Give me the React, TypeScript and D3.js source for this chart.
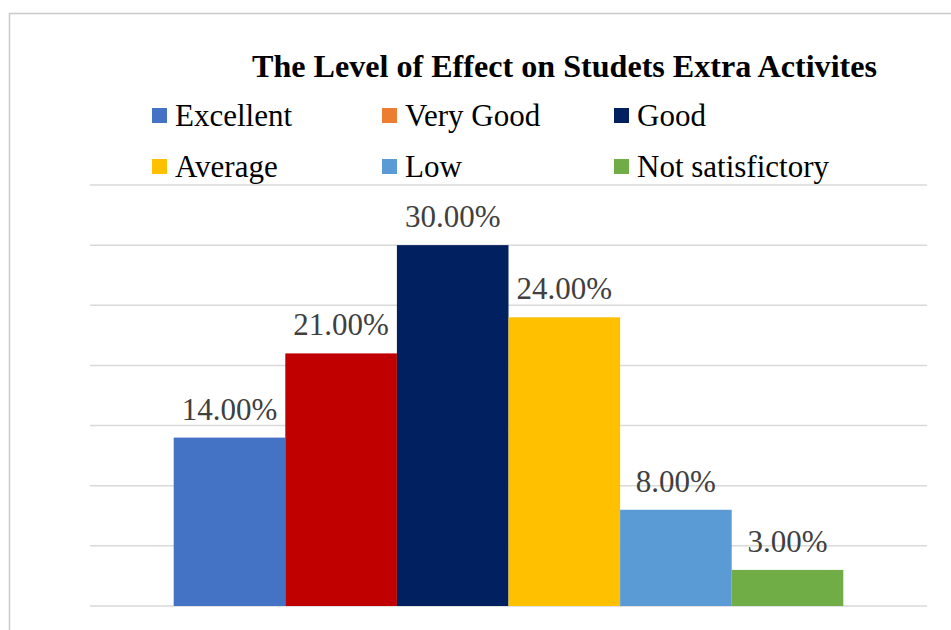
import React from "react";
import * as d3 from "d3";

const title = "The Level of Effect on Studets Extra Activites";
const categories = ["Excellent", "Very Good", "Good", "Average", "Low", "Not satisfictory"];
const values = [0.14, 0.21, 0.3, 0.24, 0.08, 0.03];
const barColors = ["#4472C4", "#C00000", "#002060", "#FFC000", "#5B9BD5", "#70AD47"];
const legendColors = ["#4472C4", "#ED7D31", "#002060", "#FFC000", "#5B9BD5", "#70AD47"];
const gridTicks = [0, 0.05, 0.1, 0.15, 0.2, 0.25, 0.3, 0.35];

const W = 951;
const H = 630;
const plot = { left: 90, right: 927, top: 185, bottom: 606 };
const serif = "'Liberation Serif', 'Times New Roman', serif";

export default function App() {
  const y = d3.scaleLinear().domain([0, 0.35]).range([plot.bottom, plot.top]);
  const x = d3
    .scaleBand<string>()
    .domain(categories)
    .range([plot.left, plot.right])
    .paddingInner(0)
    .paddingOuter(0.75);
  const fmt = d3.format(".2%");

  const legendCols = [152, 382, 614];
  const legendRows = [126, 177];

  return (
    <svg
      width={W}
      height={H}
      viewBox={`0 0 ${W} ${H}`}
      style={{ position: "absolute", left: 0, top: 0, background: "#fff" }}
    >
      <rect x={9.5} y={13.5} width={W + 20} height={H + 20} fill="#fff" stroke="#c9c9c9" strokeWidth={1.5} />

      <text
        x={564.5}
        y={77}
        textAnchor="middle"
        fontFamily={serif}
        fontWeight="bold"
        fontSize={32}
        textLength={625}
        lengthAdjust="spacingAndGlyphs"
        fill="#000"
      >
        {title}
      </text>

      {categories.map((c, i) => {
        const cx = legendCols[i % 3];
        const by = legendRows[Math.floor(i / 3)];
        return (
          <g key={c}>
            <rect x={cx} y={by - 18} width={15} height={15} fill={legendColors[i]} />
            <text x={cx + 23} y={by} fontFamily={serif} fontSize={31} fill="#000">
              {c}
            </text>
          </g>
        );
      })}

      {gridTicks.map((t) => (
        <line
          key={t}
          x1={plot.left}
          x2={plot.right}
          y1={y(t)}
          y2={y(t)}
          stroke="#d9d9d9"
          strokeWidth={1.5}
        />
      ))}

      {categories.map((c, i) => (
        <rect
          key={c}
          x={x(c)}
          y={y(values[i])}
          width={x.bandwidth()}
          height={y(0) - y(values[i])}
          fill={barColors[i]}
        />
      ))}

      {categories.map((c, i) => (
        <text
          key={c}
          x={(x(c) as number) + x.bandwidth() / 2}
          y={y(values[i]) - 18}
          textAnchor="middle"
          fontFamily={serif}
          fontSize={31}
          fill="#404040"
        >
          {fmt(values[i])}
        </text>
      ))}
    </svg>
  );
}
